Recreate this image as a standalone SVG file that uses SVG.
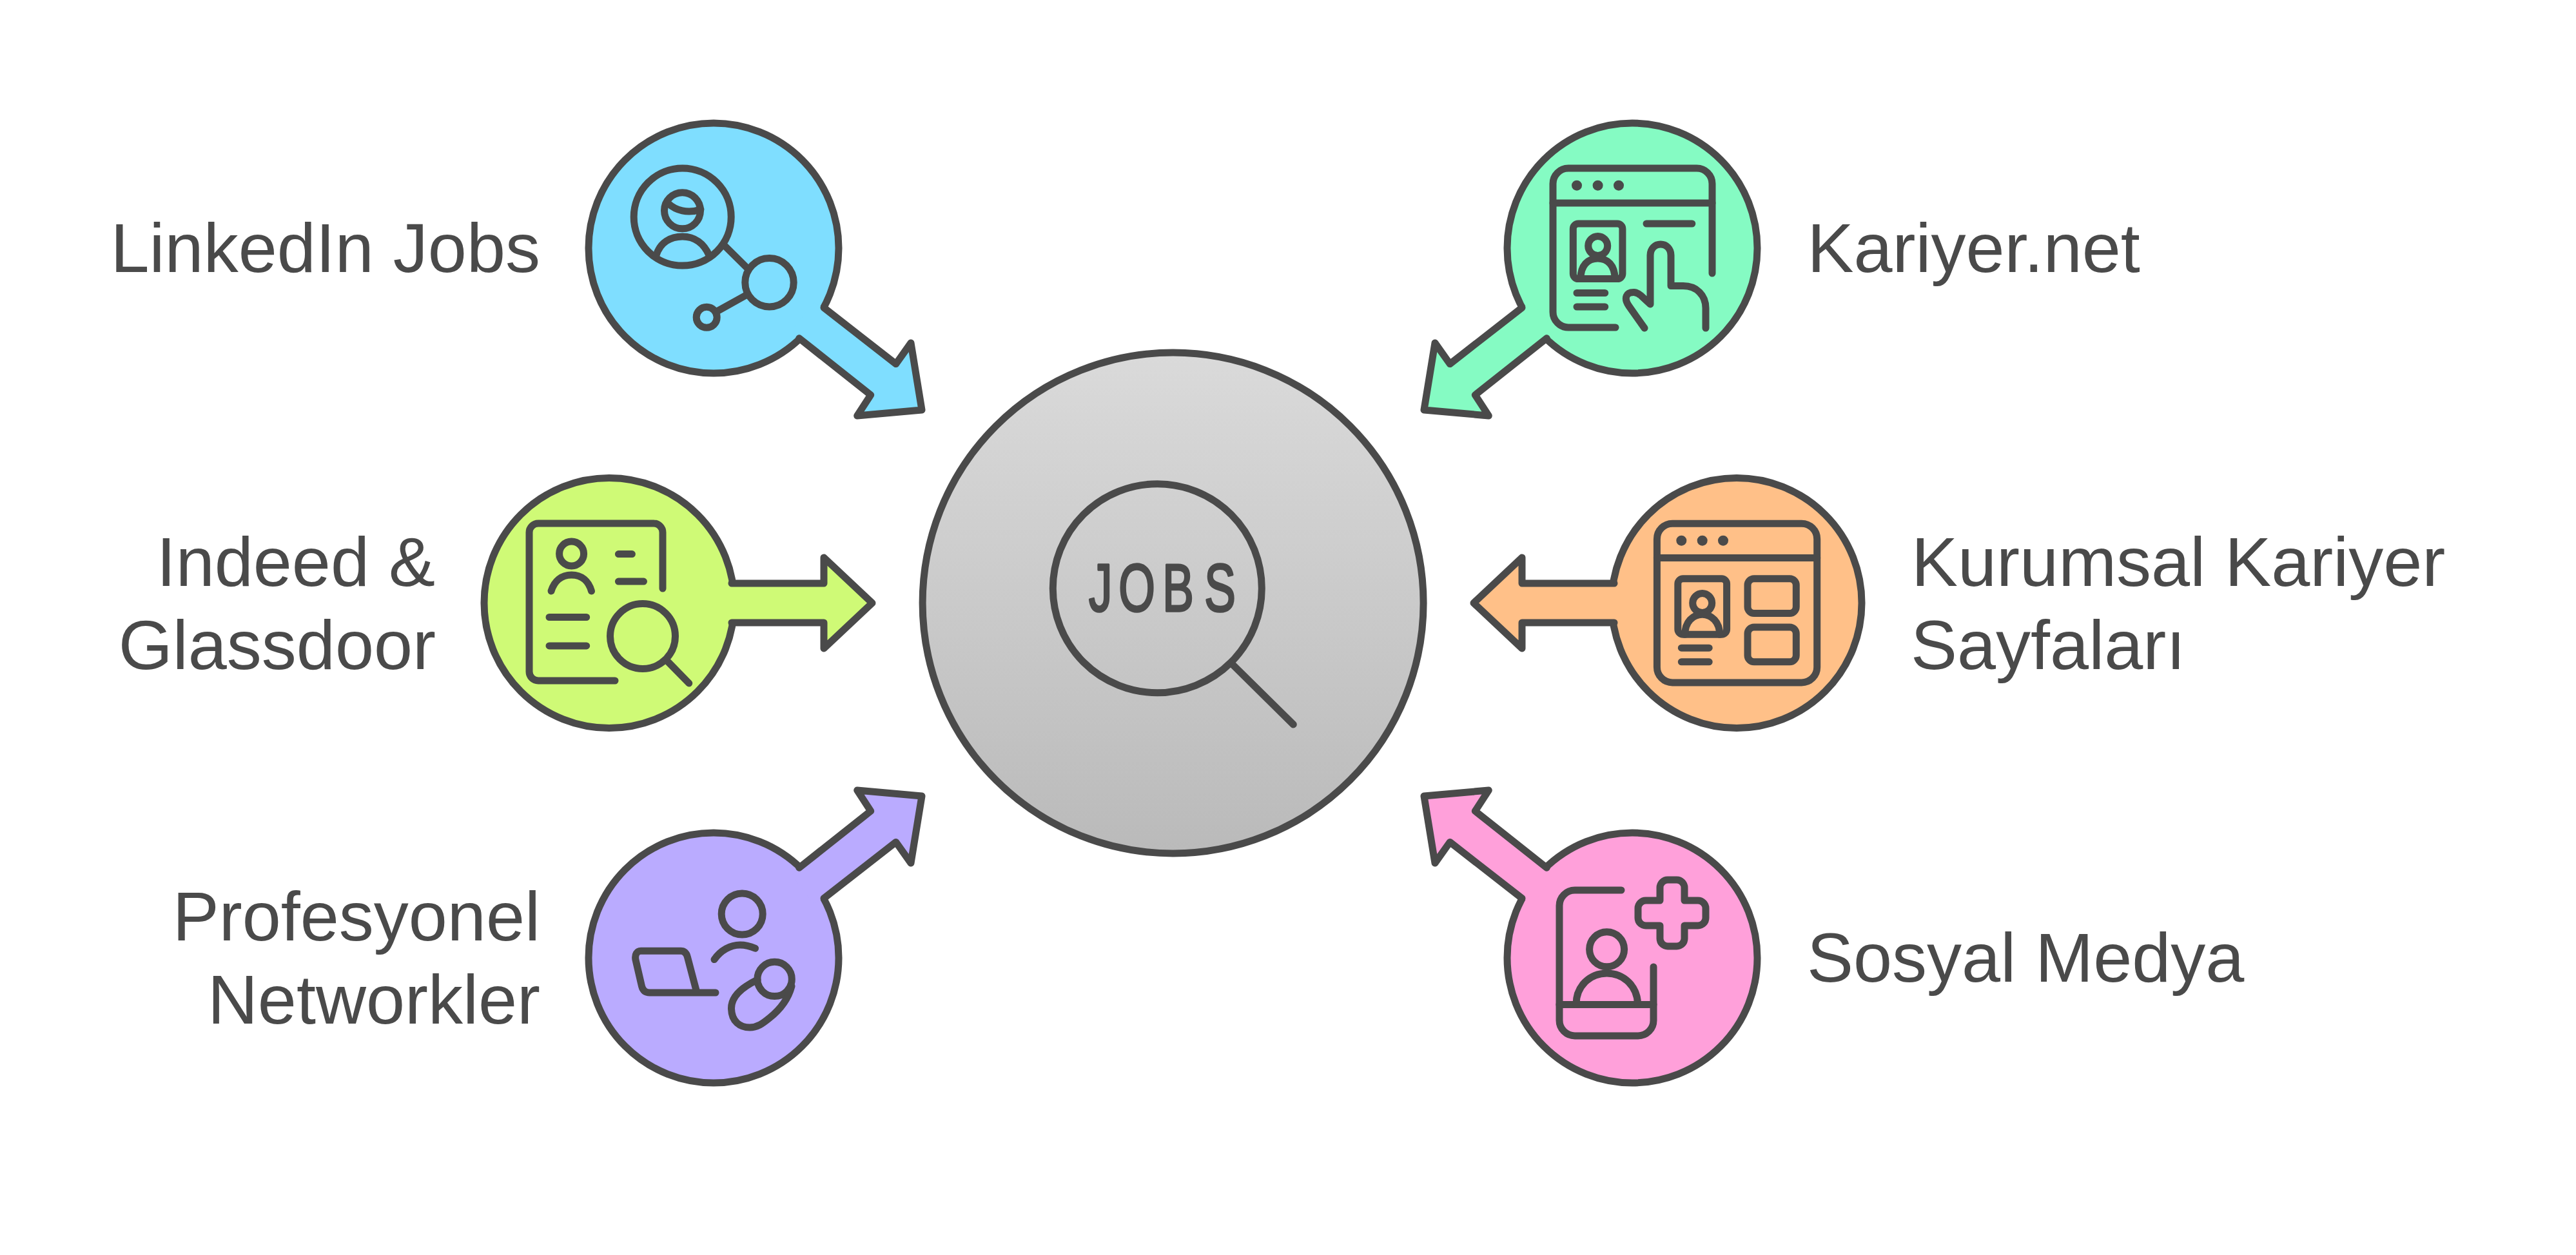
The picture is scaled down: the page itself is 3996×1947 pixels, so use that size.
<svg xmlns="http://www.w3.org/2000/svg" width="3996" height="1947" viewBox="0 0 3996 1947">
<defs>
<linearGradient id="hub" x1="0" y1="0" x2="0" y2="1"><stop offset="0" stop-color="#dadada"/><stop offset="1" stop-color="#bababa"/></linearGradient>
</defs>
<style>
.o{fill:none;stroke:#4a4a4a;stroke-width:11;stroke-linecap:round;stroke-linejoin:round}
.c{stroke:#4a4a4a;stroke-width:11}
.d{fill:#4a4a4a}
.t{font-family:"Liberation Sans",Arial,sans-serif;font-size:108px;fill:#4a4a4a}
.e{text-anchor:end}
.j{font-family:"Liberation Sans",Arial,sans-serif;font-size:104px;fill:#4a4a4a;stroke:#4a4a4a;stroke-width:3.5;stroke-linejoin:round}
.blue{fill:#7fdeff}.mint{fill:#85fbc3}.lime{fill:#cffa76}.orange{fill:#ffc088}.purple{fill:#baabff}.pink{fill:#ffa0da}
.nos{stroke:none}
</style>
<rect width="3996" height="1947" fill="#ffffff"/>

<g id="node-hub">
<circle class="c" cx="1819.6" cy="935.5" r="388.5" fill="url(#hub)"/>
<circle class="o" cx="1795.3" cy="912.7" r="162"/>
<path class="o" d="M1911.5 1030.3L2006.3 1124"/>
<text class="j" transform="translate(0 948) scale(.7 1)" x="2413 2479 2576 2669" y="0">JOBS</text>
</g>

<g id="node-linkedin">
<circle class="c blue" cx="1107" cy="385" r="194"/>
<circle class="o" cx="1058.7" cy="336.6" r="75.5"/>
<circle class="o" cx="1058.5" cy="326.8" r="28"/>
<path class="o" d="M1037 316C1048 326 1066 332 1087 325"/>
<path class="o" d="M1018 396C1024 376 1040 367 1058.7 367C1078 367 1092 378 1100 396"/>
<path class="o" d="M1125 382.2L1158.6 415.4"/>
<circle class="o" cx="1193.5" cy="438.3" r="37.7"/>
<path class="o" d="M1113.4 482.4L1156.3 458.5"/>
<circle class="o" cx="1096.2" cy="492.3" r="16"/>
<text class="t e" x="838" y="422.4">LinkedIn Jobs</text>
</g>

<g id="node-kariyer">
<circle class="c mint" cx="2532" cy="385" r="194"/>
<path class="o" d="M2506 508H2433A24 24 0 0 1 2409 484V285A24 24 0 0 1 2433 261H2632A24 24 0 0 1 2656 285V424"/>
<path class="o" d="M2409 315H2656"/>
<circle class="d" cx="2446" cy="287.7" r="8"/><circle class="d" cx="2478.6" cy="287.7" r="8"/><circle class="d" cx="2511" cy="287.7" r="8"/>
<rect class="o" x="2440.3" y="347" width="76.6" height="85.6" rx="8"/>
<circle class="o" cx="2478.7" cy="381.5" r="15"/>
<path class="o" d="M2452 432C2452 412 2463 401 2478.5 401C2494 401 2505 412 2505 432"/>
<path class="o" d="M2554 347H2624.8M2446 454.5H2489.7M2446 476H2489.7"/>
<path class="o" d="M2551 509L2527 475C2518 462 2523 453 2535 453.5C2540 454 2544 457 2546 459L2560 472V396C2560 386 2567 379 2576 379C2585 379 2592 386 2592 396V443.6H2611C2632 443.6 2646 458 2646 478V509"/>
<text class="t" x="2803.5" y="422.4">Kariyer.net</text>
</g>

<g id="node-indeed">
<circle class="c lime" cx="945" cy="935.5" r="194"/>
<path class="o" d="M954 1056H835A14 14 0 0 1 821 1042V826A14 14 0 0 1 835 812H1014A14 14 0 0 1 1028 826V913"/>
<circle class="o" cx="886.6" cy="859" r="19"/>
<path class="o" d="M855 917C860 901 871 892 886.6 892C902 892 913 901 917.5 917"/>
<path class="o" d="M959.4 859.6H980.4M959.4 902.1H998.5M852 957.5H909.7M852 1001.9H909.7"/>
<circle class="o" cx="997" cy="987" r="50.5"/>
<path class="o" d="M1036.4 1026.8L1068.8 1060"/>
<text class="t e" x="675" y="909">Indeed &amp;</text>
<text class="t e" x="676" y="1038">Glassdoor</text>
</g>

<g id="node-kurumsal">
<circle class="c orange" cx="2694" cy="935.5" r="194"/>
<rect class="o" x="2570.4" y="812.2" width="248.3" height="246.8" rx="24"/>
<path class="o" d="M2570.4 865.6H2818.7"/>
<circle class="d" cx="2608.3" cy="838.7" r="8"/><circle class="d" cx="2640.7" cy="838.7" r="8"/><circle class="d" cx="2673" cy="838.7" r="8"/>
<rect class="o" x="2602.8" y="897.8" width="75.8" height="86.5" rx="8"/>
<circle class="o" cx="2640.7" cy="935.6" r="15"/>
<path class="o" d="M2613.8 984.3C2613.8 965 2626 953.2 2640.7 953.2C2655 953.2 2667.6 965 2667.6 984.3"/>
<path class="o" d="M2608.3 1005.2H2651.2M2608.3 1026.8H2651.2"/>
<rect class="o" x="2711" y="897.8" width="75.3" height="53.7" rx="10"/>
<rect class="o" x="2711" y="973" width="75.3" height="53.8" rx="10"/>
<text class="t" x="2965" y="909">Kurumsal Kariyer</text>
<text class="t" x="2964" y="1038">Sayfaları</text>
</g>

<g id="node-profesyonel">
<circle class="c purple" cx="1107" cy="1486" r="194"/>
<circle class="o" cx="1151.2" cy="1418" r="32"/>
<path class="o" d="M1108 1488.6C1118 1474 1133 1466 1148 1466C1156 1466 1164 1468 1171.6 1471.3"/>
<path class="o" d="M1110 1540H1008C1001 1540 997 1536 995.5 1530L986 1489C984.5 1481 988 1475.3 994 1475.3H1056C1062 1475.3 1065 1479 1066.5 1485L1081 1540"/>
<circle class="o" cx="1201.6" cy="1518.9" r="26.7"/>
<path class="o" d="M1175 1520C1150 1532 1134 1546 1134.5 1565C1135 1585 1148 1594 1163 1594C1175 1594 1183 1588 1194 1579C1214 1563 1224 1545 1228 1530"/>
<text class="t e" x="838" y="1459.4">Profesyonel</text>
<text class="t e" x="838" y="1588">Networkler</text>
</g>

<g id="node-sosyal">
<circle class="c pink" cx="2532" cy="1486" r="194"/>
<path class="o" d="M2515 1381H2443A24 24 0 0 0 2419 1405V1583A24 24 0 0 0 2443 1607H2541A24 24 0 0 0 2565 1583V1500"/>
<path class="o" d="M2419 1558.5H2565"/>
<circle class="o" cx="2492.6" cy="1472.8" r="27"/>
<path class="o" d="M2445 1558C2445 1530 2466 1510 2492.6 1510C2519 1510 2540 1530 2540.6 1558"/>
<path class="o" d="M2575 1397V1377A12 12 0 0 1 2587 1365H2601A12 12 0 0 1 2613 1377V1397H2634A12 12 0 0 1 2646 1409V1424A12 12 0 0 1 2634 1436H2613V1456A12 12 0 0 1 2601 1468H2587A12 12 0 0 1 2575 1456V1436H2553A12 12 0 0 1 2541 1424V1409A12 12 0 0 1 2553 1397Z"/>
<text class="t" x="2803" y="1523.4">Sosyal Medya</text>
</g>

<g id="connectors">
<path class="blue nos" d="M1278 477.4L1389.8 564.6L1413 532L1430 636L1329.7 645L1350.7 612.7L1239.7 524.8L1228 513L1262 469Z"/>
<path class="o" d="M1278 477.4L1389.8 564.6L1413 532L1430 636L1329.7 645L1350.7 612.7L1239.7 524.8"/>
<path class="mint nos" d="M2361 477.4L2249.2 564.6L2226 532L2209 636L2309.3 645L2288.3 612.7L2399.3 524.8L2411 513L2377 469Z"/>
<path class="o" d="M2361 477.4L2249.2 564.6L2226 532L2209 636L2309.3 645L2288.3 612.7L2399.3 524.8"/>
<path class="lime nos" d="M1135 905H1278V865L1353 935.5L1278 1006V966H1135L1120 966V905Z"/>
<path class="o" d="M1135 905H1278V865L1353 935.5L1278 1006V966H1135"/>
<path class="orange nos" d="M2504 905H2361V865L2286 935.5L2361 1006V966H2504L2519 966V905Z"/>
<path class="o" d="M2504 905H2361V865L2286 935.5L2361 1006V966H2504"/>
<path class="purple nos" d="M1278 1393.6L1389.8 1306.4L1413 1339L1430 1235L1329.7 1226L1350.7 1258.3L1239.7 1346.2L1228 1358L1262 1402Z"/>
<path class="o" d="M1278 1393.6L1389.8 1306.4L1413 1339L1430 1235L1329.7 1226L1350.7 1258.3L1239.7 1346.2"/>
<path class="pink nos" d="M2361 1393.6L2249.2 1306.4L2226 1339L2209 1235L2309.3 1226L2288.3 1258.3L2399.3 1346.2L2411 1358L2377 1402Z"/>
<path class="o" d="M2361 1393.6L2249.2 1306.4L2226 1339L2209 1235L2309.3 1226L2288.3 1258.3L2399.3 1346.2"/>
</g>
</svg>
